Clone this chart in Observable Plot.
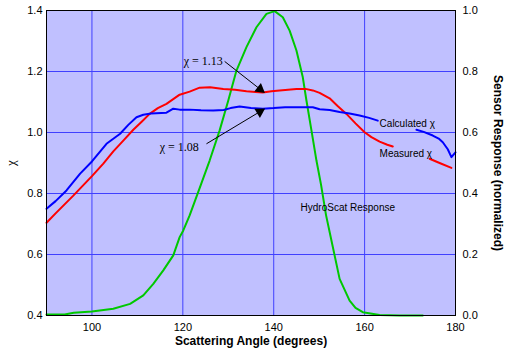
<!DOCTYPE html>
<html><head><meta charset="utf-8">
<script src="https://cdn.jsdelivr.net/npm/d3@7"></script>
<script src="https://cdn.jsdelivr.net/npm/@observablehq/plot@0.6"></script>
<style>body{margin:0;background:#fff;}</style>
</head><body><div id="chart"></div>
<script>
// Calculated chi (blue); null = gap where the label sits
const calcAngle = [90,92,94.4,97.4,100,103.2,106.2,108,109.8,111.3,113,116.4,117.9,119.3,121.5,124,126.7,129,130.5,132.5,135,137.6,140,142.5,145,148.6,150.1,152.3,154.5,156.7,158.9,161,162.9,167,171.4,173,175,176.3,177.2,178.3,179.1,180];
const calcChi   = [0.75,0.775,0.81,0.865,0.905,0.963,0.996,1.025,1.05,1.058,1.062,1.065,1.078,1.075,1.075,1.073,1.072,1.074,1.08,1.085,1.08,1.078,1.08,1.083,1.083,1.083,1.076,1.074,1.067,1.062,1.056,1.048,1.039,null,1.009,1.002,0.99,0.98,0.968,0.945,0.919,0.935];
// Measured chi (red)
const measAngle = [90,92,95.9,100,102.5,104.7,107,109.1,111,112.7,114.5,116.4,119.3,121.5,123.7,126,128.9,131.5,134,136,137.6,139.5,141.3,145,147,148.6,150.1,152.3,154,156,158,160,161.5,163.3,165,166.2,170,174.3,176.5,179.1];
const measChi   = [0.704,0.735,0.793,0.857,0.898,0.938,0.975,1.009,1.036,1.061,1.08,1.094,1.124,1.134,1.147,1.148,1.143,1.14,1.135,1.133,1.131,1.135,1.138,1.143,1.143,1.138,1.13,1.112,1.088,1.061,1.03,1.001,0.985,0.97,0.96,0.954,null,0.914,0.9,0.884];
// HydroScat response (green), right axis 0..1
const hsAngle = [90,94,96,100,104.7,108.4,111.3,113.5,115.7,117.9,119.3,120.1,121.5,124,125.9,128.1,130,131.8,134,136.2,138.4,140.2,142,143.5,145,146.4,147.2,148.3,149.4,150.4,151.5,152.7,154.5,156.7,158,159.6,163.3,167.7,172.8];
const hsResp  = [0.003,0.003,0.009,0.013,0.022,0.038,0.066,0.104,0.148,0.197,0.257,0.279,0.328,0.43,0.508,0.607,0.705,0.803,0.88,0.945,0.989,0.998,0.978,0.934,0.869,0.781,0.705,0.607,0.508,0.43,0.33,0.246,0.12,0.049,0.025,0.011,0.002,0,0];

const xTicks = [100,120,140,160,180];
const xGrid = [100,120,140,160];
const yTicks = [0.4,0.6,0.8,1.0,1.2,1.4];
const yGrid = [0.6,0.8,1.0,1.2];

// Annotations
const noteText = ["χ = 1.13","χ = 1.08"];
const noteX = [128.8,123.5];
const noteY = [1.233,0.951];
const arrowX1 = [129.2,125.2], arrowY1 = [1.233,0.963];
const arrowX2 = [137.6,137.6], arrowY2 = [1.135,1.074];
const lblText = ["Calculated χ","Measured χ","HydroScat Response"];
const lblX = [163.3,163.3,145.9];
const lblY = [1.03,0.93,0.753];

const RIGHT_OFFSET = 0.4; // right axis 0..1 drawn on left 0.4..1.4
const calc = calcAngle.map((a,i)=>({a, v: calcChi[i]}));
const meas = measAngle.map((a,i)=>({a, v: measChi[i]}));
const hs = hsAngle.map((a,i)=>({a, v: hsResp[i] + RIGHT_OFFSET}));
const notes = noteText.map((t,i)=>({t, x: noteX[i], y: noteY[i]}));
const arrows = arrowX1.map((x,i)=>({x1:x, y1:arrowY1[i], x2:arrowX2[i], y2:arrowY2[i]}));
const lbls = lblText.map((t,i)=>({t, x: lblX[i], y: lblY[i]}));

function makeChart(heads) {
  return Plot.plot({
    width: 509, height: 352,
    marginLeft: 46, marginRight: 54, marginTop: 10, marginBottom: 37,
    style: {fontFamily: "'Liberation Sans', Arial, sans-serif", fontSize: "11px", color: "black", background: "white"},
    x: {domain: [90,180]},
    y: {domain: [0.4,1.4]},
    marks: [
      Plot.frame({fill: "#c0c0ff", stroke: null}),
      Plot.gridX(xGrid, {stroke: "#4040ff", strokeOpacity: 1, strokeWidth: 1}),
      Plot.gridY(yGrid, {stroke: "#4040ff", strokeOpacity: 1, strokeWidth: 1}),
      Plot.axisX(xTicks, {tickSize: 0, tickPadding: 8, label: null, fontSize: 11}),
      Plot.axisY(yTicks, {anchor: "left", tickSize: 0, tickPadding: 4, label: null, tickFormat: d => d.toFixed(1), fontSize: 11}),
      Plot.axisY(yTicks, {anchor: "right", tickSize: 0, tickPadding: 7, label: null, tickFormat: d => (d - RIGHT_OFFSET).toFixed(1), fontSize: 11}),
      Plot.line(hs, {x: "a", y: "v", stroke: "#00c800", strokeWidth: 2}),
      Plot.line(meas, {x: "a", y: "v", stroke: "#ff0000", strokeWidth: 2}),
      Plot.line(calc, {x: "a", y: "v", stroke: "#0000ff", strokeWidth: 2}),
      Plot.link(arrows, {x1: "x1", y1: "y1", x2: "x2", y2: "y2", stroke: "black", strokeWidth: 1}),
      Plot.dot(heads, {x: "x", y: "y", rotate: "r", symbol: "triangle", r: 4, fill: "black", stroke: null}),
      Plot.text(notes, {x: "x", y: "y", text: "t", textAnchor: "end", fontFamily: "'Liberation Serif', 'Times New Roman', serif", fontSize: 12, fill: "black"}),
      Plot.text(lbls, {x: "x", y: "y", text: "t", textAnchor: "start", fontSize: 10, fill: "black"}),
      Plot.frame({stroke: "black", strokeWidth: 1}),
      Plot.text(["Scattering Angle (degrees)"], {frameAnchor: "bottom", dy: 29, fontWeight: "bold", fontSize: 12, fill: "black", textAnchor: "middle"}),
      Plot.text(["Sensor Response (normalized)"], {frameAnchor: "right", dx: 42, rotate: 90, textAnchor: "middle", fontWeight: "bold", fontSize: 12, fill: "black"}),
      Plot.text(["χ"], {frameAnchor: "left", dx: -36, rotate: -90, textAnchor: "middle", fontFamily: "'Liberation Serif', serif", fontSize: 13, fill: "black"})
    ]
  });
}
// first pass to obtain the scales, then place filled arrowheads along each arrow
const probe = makeChart([]);
const sx = probe.scale("x"), sy = probe.scale("y");
const heads = arrows.map(d => {
  const px1 = sx.apply(d.x1), py1 = sy.apply(d.y1), px2 = sx.apply(d.x2), py2 = sy.apply(d.y2);
  const len = Math.hypot(px2 - px1, py2 - py1);
  const k = 3.5 / len;
  const ang = Math.atan2(py2 - py1, px2 - px1) * 180 / Math.PI;
  return {x: sx.invert(px2 - (px2 - px1) * k), y: sy.invert(py2 - (py2 - py1) * k), r: ang + 90};
});
document.getElementById("chart").appendChild(makeChart(heads));
</script>
</body></html>
